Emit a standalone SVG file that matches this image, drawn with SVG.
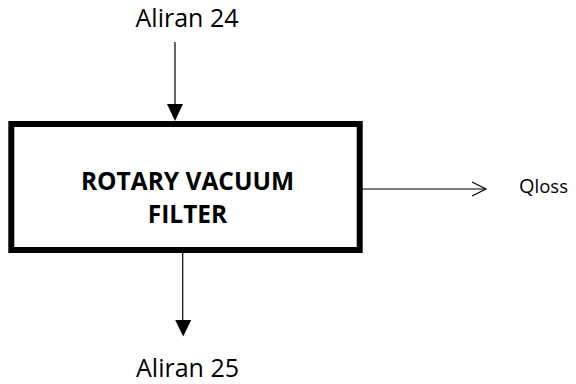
<svg xmlns="http://www.w3.org/2000/svg" width="576" height="384" viewBox="0 0 576 384">
<style>
.lbl{font-family:"Open Sans","Liberation Sans",sans-serif;font-size:25px;fill:#000}
.bold{font-family:"Open Sans","Liberation Sans",sans-serif;font-weight:bold;font-size:24.5px;fill:#000}
.ln{stroke:#000;stroke-width:1.2;fill:none}
</style>
<rect width="576" height="384" fill="#fff"/>
<g id="filter">
<rect x="11.3" y="124" width="348.4" height="126" fill="#fff" stroke="#000" stroke-width="6"/>
<text class="bold" x="187.5" y="190" text-anchor="middle">ROTARY VACUUM</text>
<text class="bold" x="187.5" y="223.3" text-anchor="middle">FILTER</text>
</g>
<g id="aliran24">
<text class="lbl" x="187" y="27" text-anchor="middle">Aliran 24</text>
</g>
<g id="aliran25">
<text class="lbl" x="187.5" y="377" text-anchor="middle">Aliran 25</text>
</g>
<g id="qloss">
<text x="519" y="193" font-family="'Open Sans','Liberation Sans',sans-serif" fill="#000"><tspan font-size="20">Q</tspan><tspan font-size="18.5">loss</tspan></text>
</g>
<g id="connectors">
<line class="ln" x1="175" y1="42" x2="175" y2="105"/>
<polygon points="167,104 183,104 175,121" fill="#000"/>
<line class="ln" x1="182.7" y1="253" x2="182.7" y2="321"/>
<polygon points="175.2,320 191.2,320 183.2,336.5" fill="#000"/>
<line class="ln" x1="362" y1="189" x2="485" y2="189"/>
<polyline class="ln" points="472,182 486,189 472,196"/>
</g>
</svg>
